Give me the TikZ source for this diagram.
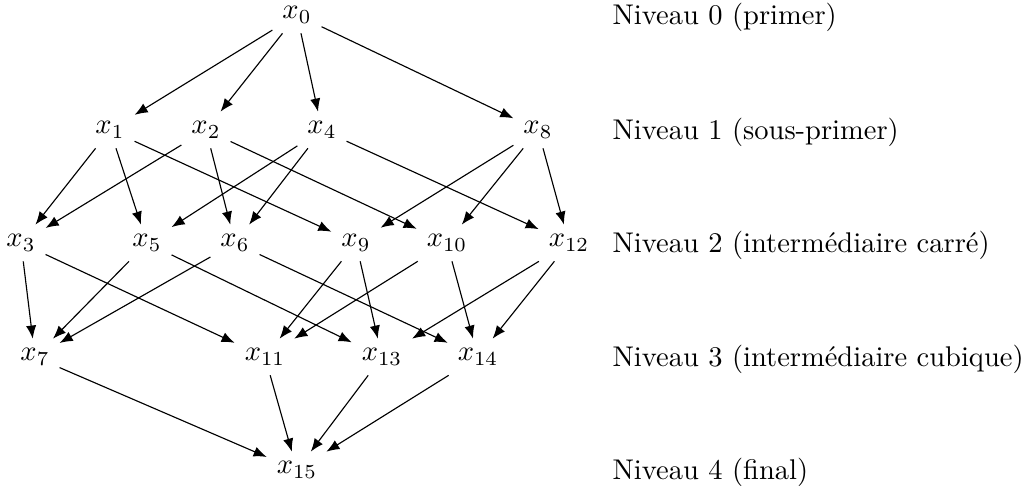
\documentclass[tikz,border=0pt]{standalone}
\usetikzlibrary{arrows.meta}
\begin{document}
\begin{tikzpicture}[x=0.3509pt,y=-0.3509pt,
  vert/.style={inner sep=3.33pt},
  lvl/.style={anchor=west,inner sep=0pt},
  edge/.style={-{Latex[length=4.6pt,width=3.6pt]}}]
\useasboundingbox (0,0) rectangle (1030,486);
\node[vert] (x0) at (297,15) {$x_{0}$};
\node[vert] (x1) at (110,130) {$x_{1}$};
\node[vert] (x2) at (206,130) {$x_{2}$};
\node[vert] (x4) at (322,130) {$x_{4}$};
\node[vert] (x8) at (538,130) {$x_{8}$};
\node[vert] (x3) at (21,243) {$x_{3}$};
\node[vert] (x5) at (147,243) {$x_{5}$};
\node[vert] (x6) at (235,243) {$x_{6}$};
\node[vert] (x9) at (356,243) {$x_{9}$};
\node[vert] (x10) at (447,243) {$x_{10}$};
\node[vert] (x12) at (569,243) {$x_{12}$};
\node[vert] (x7) at (35,357) {$x_{7}$};
\node[vert] (x11) at (265,357) {$x_{11}$};
\node[vert] (x13) at (382,357) {$x_{13}$};
\node[vert] (x14) at (478,357) {$x_{14}$};
\node[vert] (x15) at (297,470) {$x_{15}$};
\node[lvl] (l0) at (612,17) {Niveau 0 (primer)};
\node[lvl] (l1) at (612,132) {Niveau 1 (sous-primer)};
\node[lvl] (l2) at (612,245) {Niveau 2 (intermédiaire carré)};
\node[lvl] (l3) at (612,359) {Niveau 3 (intermédiaire cubique)};
\node[lvl] (l4) at (612,472) {Niveau 4 (final)};
\foreach \a/\b in {x0/x1,x0/x2,x0/x4,x0/x8,
  x1/x3,x1/x5,x1/x9,x2/x3,x2/x6,x2/x10,x4/x5,x4/x6,x4/x12,x8/x9,x8/x10,x8/x12,
  x3/x7,x3/x11,x5/x7,x5/x13,x6/x7,x6/x14,x9/x11,x9/x13,x10/x11,x10/x14,x12/x13,x12/x14,
  x7/x15,x11/x15,x13/x15,x14/x15}
  \draw[edge] (\a) -- (\b);
\end{tikzpicture}
\end{document}
